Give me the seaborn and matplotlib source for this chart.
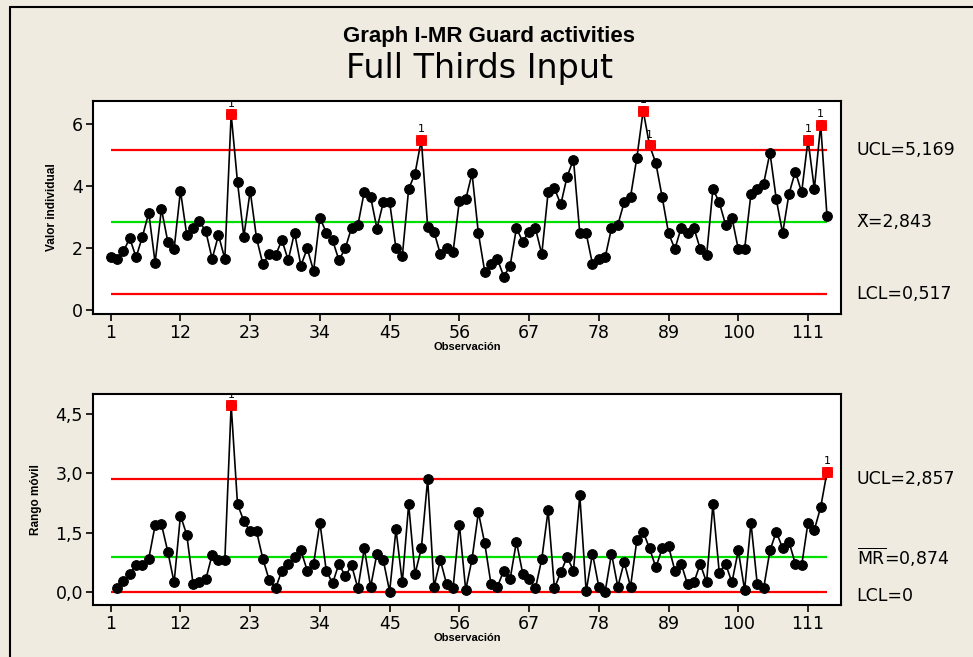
import numpy as np
import pandas as pd
import matplotlib
matplotlib.use("Agg")
import matplotlib.pyplot as plt
import seaborn as sns
from matplotlib.lines import Line2D

# data
obs = list(range(1, 115))
individual = [
    1.70, 1.64, 1.89, 2.32, 1.70, 2.37, 3.14, 1.53, 3.26, 2.21,
    1.97, 3.85, 2.41, 2.65, 2.86, 2.54, 1.65, 2.42, 1.65, 6.32,
    4.13, 2.37, 3.85, 2.32, 1.48, 1.81, 1.76, 2.26, 1.61, 2.50,
    1.43, 1.99, 1.26, 2.98, 2.50, 2.25, 1.61, 1.99, 2.66, 2.75,
    3.82, 3.65, 2.63, 3.48, 3.48, 1.99, 1.75, 3.91, 4.40, 5.50,
    2.69, 2.53, 1.80, 1.99, 1.86, 3.52, 3.57, 4.41, 2.48, 1.24,
    1.49, 1.65, 1.08, 1.42, 2.64, 2.21, 2.53, 2.64, 1.80, 3.80,
    3.93, 3.41, 4.31, 4.86, 2.48, 2.48, 1.48, 1.65, 1.70, 2.64,
    2.75, 3.48, 3.65, 4.92, 6.44, 5.32, 4.74, 3.64, 2.48, 1.97,
    2.66, 2.48, 2.65, 1.97, 1.76, 3.91, 3.48, 2.75, 2.98, 1.97,
    1.97, 3.75, 3.91, 4.08, 5.08, 3.57, 2.48, 3.75, 4.47, 3.80,
    5.50, 3.91, 5.98, 3.03,
]
moving_range = [
    np.nan, 0.10, 0.28, 0.46, 0.67, 0.67, 0.84, 1.68, 1.71, 1.02,
    0.24, 1.93, 1.44, 0.19, 0.24, 0.32, 0.94, 0.80, 0.80, 4.72,
    2.22, 1.79, 1.53, 1.53, 0.84, 0.30, 0.09, 0.54, 0.71, 0.88,
    1.05, 0.54, 0.71, 1.75, 0.54, 0.22, 0.71, 0.40, 0.67, 0.09,
    1.10, 0.13, 0.97, 0.80, 0.01, 1.58, 0.24, 2.22, 0.45, 1.10,
    2.85, 0.13, 0.80, 0.19, 0.09, 1.70, 0.05, 0.83, 2.01, 1.23,
    0.19, 0.13, 0.54, 0.32, 1.27, 0.46, 0.32, 0.09, 0.83, 2.06,
    0.09, 0.50, 0.88, 0.54, 2.44, 0.02, 0.97, 0.13, 0.01, 0.97,
    0.13, 0.76, 0.13, 1.31, 1.52, 1.10, 0.62, 1.10, 1.15, 0.54,
    0.71, 0.19, 0.24, 0.71, 0.24, 2.22, 0.49, 0.71, 0.24, 1.05,
    0.05, 1.75, 0.19, 0.09, 1.05, 1.52, 1.10, 1.27, 0.71, 0.67,
    1.75, 1.57, 2.14, 3.03,
]
i_ucl, i_center, i_lcl = 5.169, 2.843, 0.517
mr_ucl, mr_center, mr_lcl = 2.857, 0.874, 0.0
i_flags = [20, 50, 85, 86, 111, 113]
mr_flags = [20, 114]
x_ticks = [1, 12, 23, 34, 45, 56, 67, 78, 89, 100, 111]

df = pd.DataFrame({"obs": obs, "ind": individual, "mr": moving_range})

sns.set_style("ticks")
plt.rcParams["font.family"] = ["DejaVu Sans"]
plt.rcParams["text.color"] = "black"
plt.rcParams["axes.labelcolor"] = "black"

BG = "#efebe0"
tick_font = {"family": "DejaVu Sans", "size": 12.5, "color": "black"}

fig = plt.figure(figsize=(9.73, 6.57), dpi=100, facecolor=BG)
# outer frame (only left and top edges visible in the crop)
fig.lines.append(Line2D([10 / 973, 10 / 973], [0, 1 - 7 / 657], transform=fig.transFigure,
                        color="black", linewidth=1.5))
fig.lines.append(Line2D([10 / 973, 1], [1 - 7 / 657, 1 - 7 / 657], transform=fig.transFigure,
                        color="black", linewidth=1.5))

ax1 = fig.add_axes([0.0953, 0.5221, 0.769, 0.3246])
ax2 = fig.add_axes([0.0953, 0.0791, 0.769, 0.3212])


def draw_panel(ax, col, ucl, center, lcl, flags, ylim, yticks, yticklabels,
               ylabel, labels):
    ax.set_facecolor("white")
    for y, c in [(ucl, "#ff0000"), (center, "#00e000"), (lcl, "#ff0000")]:
        ax.hlines(y, 1, 114, colors=c, linewidth=1.6, zorder=1)
    sns.lineplot(data=df, x="obs", y=col, ax=ax, color="black", linewidth=1.2,
                 marker="o", markersize=7, markeredgecolor="black",
                 markerfacecolor="black", zorder=3)
    flagged = df[df["obs"].isin(flags)]
    sns.scatterplot(data=flagged, x="obs", y=col, ax=ax, marker="s", s=55,
                    color="#ff0000", edgecolor="#ff0000", zorder=4)
    for _, r in flagged.iterrows():
        ax.annotate("1", (r["obs"], r[col]), xytext=(0, 4),
                    textcoords="offset points", ha="center", va="bottom",
                    fontsize=8, color="black", annotation_clip=True, clip_on=True)
    ax.set_xlim(-1.84, 116.2)
    ax.set_ylim(*ylim)
    ax.set_xticks(x_ticks)
    ax.set_xticklabels([str(t) for t in x_ticks], fontdict=tick_font)
    ax.set_yticks(yticks)
    ax.set_yticklabels(yticklabels, fontdict=tick_font)
    ax.tick_params(direction="out", length=5, width=1.2, colors="black", pad=2)
    for s in ax.spines.values():
        s.set_visible(True)
        s.set_linewidth(1.5)
        s.set_color("black")
    ax.set_xlabel("Observación", fontsize=8, fontweight="bold",
                  family="Liberation Sans", labelpad=0)
    ax.set_ylabel(ylabel, fontsize=8.5, fontweight="bold",
                  family="Liberation Sans", labelpad=10)
    trans = ax.get_yaxis_transform()
    for y, txt in labels:
        ax.text(1.021, y, txt, transform=trans, va="center", ha="left",
                fontdict=tick_font, clip_on=False)


draw_panel(ax1, "ind", i_ucl, i_center, i_lcl, i_flags, (-0.13, 6.76),
           [0, 2, 4, 6], ["0", "2", "4", "6"], "Valor individual",
           [(i_ucl, "UCL=5,169"), (i_center, "X̄=2,843"), (i_lcl, "LCL=0,517")])
draw_panel(ax2, "mr", mr_ucl, mr_center, mr_lcl, mr_flags, (-0.33, 5.0),
           [0, 1.5, 3.0, 4.5], ["0,0", "1,5", "3,0", "4,5"], "Rango móvil",
           [(mr_ucl, "UCL=2,857"), (mr_center, r"$\overline{\mathrm{MR}}$=0,874"),
            (-0.1, "LCL=0")])

fig.text(0.503, 0.944, "Graph I-MR Guard activities", ha="center", va="center",
         fontsize=16, fontweight="bold", family="Liberation Sans")
fig.text(0.493, 0.895, "Full Thirds Input", ha="center", va="center",
         fontsize=24, family="DejaVu Sans")

fig.savefig("out.png", dpi=100, facecolor=BG)
